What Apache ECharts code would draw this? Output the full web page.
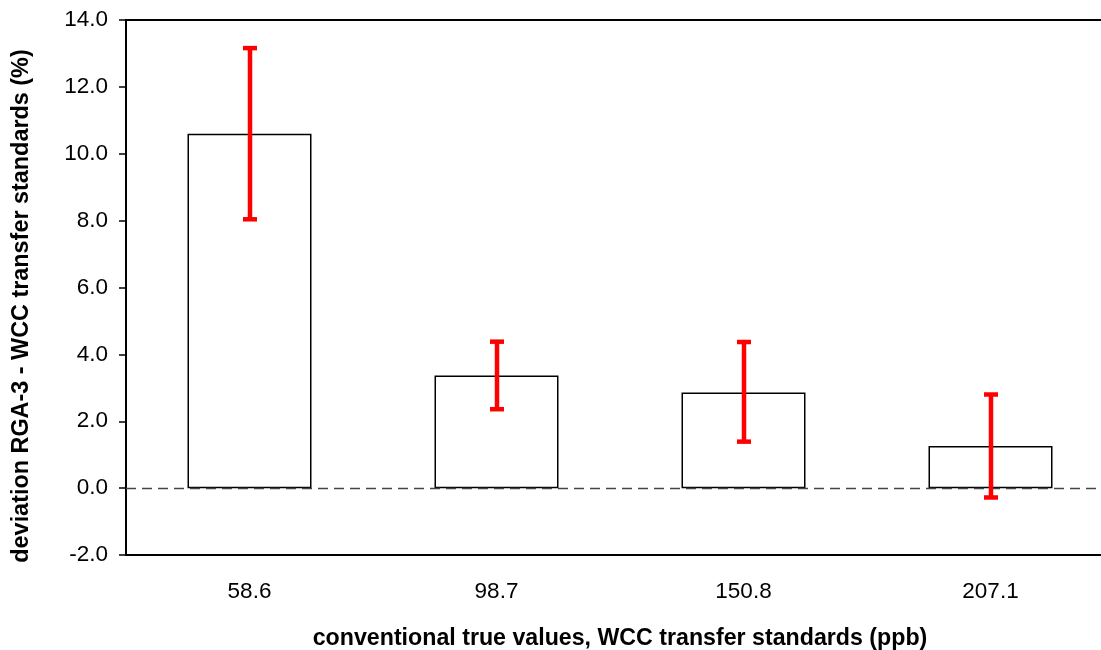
<!DOCTYPE html>
<html><head><meta charset="utf-8">
<script src="https://cdn.jsdelivr.net/npm/echarts@6/dist/echarts.min.js"></script>
<style>html,body{margin:0;padding:0;background:#fff}#c{width:1101px;height:650px}</style>
</head><body><div id="c"></div>
<script>
const categories = ['58.6', '98.7', '150.8', '207.1'];
const deviation = [10.60, 3.37, 2.86, 1.26];
const errLow = [8.04, 2.36, 1.39, -0.28];
const errHigh = [13.16, 4.38, 4.37, 2.80];
const yTicks = [-2, 0, 2, 4, 6, 8, 10, 12, 14];

const chart = echarts.init(document.getElementById('c'));
const font = '"Liberation Sans", Arial, sans-serif';
chart.setOption({
  animation: false,
  grid: { left: 126, width: 988, top: 20, bottom: 95, outerBoundsMode: 'none', containLabel: false,
          show: true, borderColor: '#000', borderWidth: 2, backgroundColor: 'transparent' },
  graphic: [{
    type: 'text', x: 22, y: 306, rotation: Math.PI / 2,
    style: { text: 'deviation RGA-3 - WCC transfer standards (%)', fill: '#000',
             font: 'bold 23.4px ' + font, align: 'center', verticalAlign: 'middle' }
  }],
  xAxis: {
    type: 'category', data: categories,
    axisLine: { onZero: false, lineStyle: { color: '#000', width: 2 } },
    axisTick: { show: false },
    axisLabel: { color: '#000', fontSize: 22.5, fontFamily: font, margin: 25 },
    name: 'conventional true values, WCC transfer standards (ppb)',
    nameLocation: 'middle', nameGap: 72,
    nameTextStyle: { color: '#000', fontSize: 23.2, fontWeight: 'bold', fontFamily: font }
  },
  yAxis: {
    type: 'value', min: yTicks[0], max: yTicks[yTicks.length - 1], interval: 2,
    axisLine: { show: true, lineStyle: { color: '#000', width: 2 } },
    axisTick: { show: true, length: 7, lineStyle: { color: '#000', width: 1.5 } },
    splitLine: { show: false },
    axisLabel: { color: '#000', fontSize: 22.5, fontFamily: font, margin: 18, formatter: v => v.toFixed(1) }
  },
  series: [
    {
      type: 'bar', data: deviation, barWidth: 124,
      itemStyle: { color: '#fff', borderColor: '#000', borderWidth: 1.5 },
      markLine: {
        silent: true, symbol: 'none', label: { show: false },
        lineStyle: { color: '#444', type: [10, 6], width: 1.4 },
        data: [{ yAxis: 0 }]
      }
    },
    {
      type: 'custom', z: 5,
      data: categories.map((c, i) => [i, errLow[i], errHigh[i]]),
      renderItem: function (params, api) {
        const lo = api.coord([api.value(0), api.value(1)]);
        const hi = api.coord([api.value(0), api.value(2)]);
        const x = Math.round(lo[0]);
        const hw = 7;
        const st = { stroke: '#ff0000', lineWidth: 4.5 };
        return {
          type: 'group', children: [
            { type: 'line', shape: { x1: x, y1: hi[1], x2: x, y2: lo[1] }, style: st },
            { type: 'line', shape: { x1: x - hw, y1: hi[1], x2: x + hw, y2: hi[1] }, style: st },
            { type: 'line', shape: { x1: x - hw, y1: lo[1], x2: x + hw, y2: lo[1] }, style: st }
          ]
        };
      }
    }
  ]
});
</script></body></html>
